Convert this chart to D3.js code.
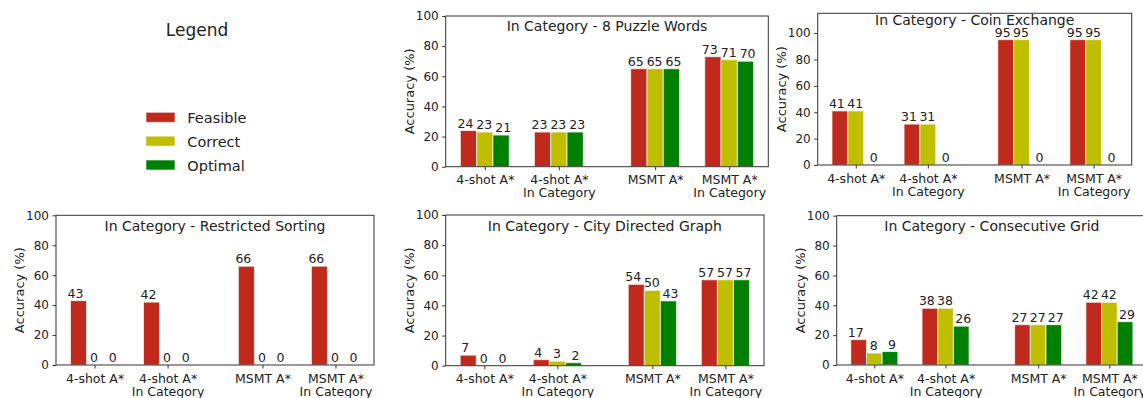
<!DOCTYPE html>
<html>
<head>
<meta charset="utf-8">
<script src="https://cdn.jsdelivr.net/npm/d3@7"></script>
<style>
  html, body { margin: 0; padding: 0; background: #fff; }
  svg { display: block; font-family: "DejaVu Sans", sans-serif; }
</style>
</head>
<body>
<svg id="chart" width="1143" height="398"></svg>
<script>
// ---------- data ----------
const categories = ["4-shot A*", "4-shot A*\nIn Category", "MSMT A*", "MSMT A*\nIn Category"];
const seriesNames = ["Feasible", "Correct", "Optimal"];
const yTicks = [0, 20, 40, 60, 80, 100];

const titles = [
  "In Category - 8 Puzzle Words",
  "In Category - Coin Exchange",
  "In Category - Restricted Sorting",
  "In Category - City Directed Graph",
  "In Category - Consecutive Grid"
];

const puzzleFeasible = [24, 23, 65, 73];
const puzzleCorrect  = [23, 23, 65, 71];
const puzzleOptimal  = [21, 23, 65, 70];

const coinFeasible = [41, 31, 95, 95];
const coinCorrect  = [41, 31, 95, 95];
const coinOptimal  = [0, 0, 0, 0];

const sortFeasible = [43, 42, 66, 66];
const sortCorrect  = [0, 0, 0, 0];
const sortOptimal  = [0, 0, 0, 0];

const cityFeasible = [7, 4, 54, 57];
const cityCorrect  = [0, 3, 50, 57];
const cityOptimal  = [0, 2, 43, 57];

const gridFeasible = [17, 38, 27, 42];
const gridCorrect  = [8, 38, 27, 42];
const gridOptimal  = [9, 26, 27, 29];

const yMaxes = [100, 115, 100, 100, 100];

// ---------- layout ----------
const colors = ["#c0291b", "#bfbf00", "#008000"];
const groupPos = [0, 1, 2.3, 3.3];      // category centres in axis units
const barW = 0.22;
const labelStep = 0.255;
const xDomain = [-0.528, 3.828];

const panels = [
  { box: [445.7, 16, 768.3, 166.7], titleY: 31, vals: [puzzleFeasible, puzzleCorrect, puzzleOptimal] },
  { box: [817.7, 13.3, 1131.7, 165], titleY: 25, vals: [coinFeasible, coinCorrect, coinOptimal] },
  { box: [56, 215.3, 374, 365], titleY: 231, vals: [sortFeasible, sortCorrect, sortOptimal] },
  { box: [445.7, 215, 764, 365.7], titleY: 230.5, vals: [cityFeasible, cityCorrect, cityOptimal] },
  { box: [836.7, 215.7, 1147, 365], titleY: 230.5, vals: [gridFeasible, gridCorrect, gridOptimal] }
];

const svg = d3.select("#chart");
const textColor = "#222";
const spineColor = "#333";

panels.forEach((p, i) => {
  const [x0, y0, x1, y1] = p.box;
  const x = d3.scaleLinear().domain(xDomain).range([x0, x1]);
  const y = d3.scaleLinear().domain([0, yMaxes[i]]).range([y1, y0]);
  const g = svg.append("g");

  // bars
  p.vals.forEach((vals, s) => {
    const off = (s - 1) * barW;
    const loff = (s - 1) * labelStep;
    g.selectAll(null).data(vals).enter().append("rect")
      .attr("x", (d, k) => x(groupPos[k] + off - barW / 2))
      .attr("width", (d, k) => x(groupPos[k] + off + barW / 2) - x(groupPos[k] + off - barW / 2))
      .attr("y", d => y(d))
      .attr("height", d => y(0) - y(d))
      .attr("fill", colors[s])
      .attr("stroke", "#fff")
      .attr("stroke-opacity", 0.7)
      .attr("stroke-width", 1);
    g.selectAll(null).data(vals).enter().append("text")
      .attr("x", (d, k) => x(groupPos[k] + loff) - 0.5)
      .attr("y", d => y(d) - 3)
      .attr("text-anchor", "middle")
      .attr("font-size", 12.5)
      .attr("fill", textColor)
      .text(d => d);
  });

  // y axis
  const yAxis = g.append("g").attr("transform", `translate(${x0},0)`)
    .call(d3.axisLeft(y).tickValues(yTicks).tickSize(3.5).tickPadding(3.5));
  yAxis.select(".domain").remove();
  yAxis.selectAll("line").attr("stroke", spineColor);
  yAxis.selectAll("text").attr("font-size", 12).attr("fill", textColor).attr("font-family", "DejaVu Sans");

  // x axis
  const xAxis = g.append("g").attr("transform", `translate(0,${y1})`)
    .call(d3.axisBottom(x).tickValues(groupPos).tickSize(3.5).tickFormat(""));
  xAxis.select(".domain").remove();
  xAxis.selectAll("line").attr("stroke", spineColor);
  xAxis.selectAll(".tick").each(function(d, k) {
    const lines = categories[k].split("\n");
    const t = d3.select(this).append("text")
      .attr("text-anchor", "middle")
      .attr("font-size", 12.5)
      .attr("fill", textColor)
      .attr("font-family", "DejaVu Sans");
    lines.forEach((ln, li) => {
      t.append("tspan").attr("x", 0).attr("y", 17.5 + li * 13).text(ln);
    });
  });

  // frame
  g.append("rect").attr("x", x0).attr("y", y0).attr("width", x1 - x0).attr("height", y1 - y0)
    .attr("fill", "none").attr("stroke", spineColor).attr("stroke-width", 1);

  // title
  g.append("text").attr("x", (x0 + x1) / 2).attr("y", p.titleY)
    .attr("text-anchor", "middle").attr("font-size", 14).attr("fill", textColor)
    .text(titles[i]);

  // y label
  g.append("text")
    .attr("transform", `translate(${x0 - 32},${(y0 + y1) / 2}) rotate(-90)`)
    .attr("text-anchor", "middle").attr("font-size", 13).attr("fill", textColor)
    .text("Accuracy (%)");
});

// legend
const leg = svg.append("g");
leg.append("text").attr("x", 197).attr("y", 36).attr("text-anchor", "middle")
  .attr("font-size", 17).attr("fill", textColor).text("Legend");
const legY = d3.scalePoint().domain(seriesNames).range([117.3, 165]);
seriesNames.forEach((name, s) => {
  leg.append("rect").attr("x", 146).attr("y", legY(name) - 5).attr("width", 29).attr("height", 10)
    .attr("fill", colors[s]).attr("stroke", "#fff").attr("stroke-opacity", 0.6);
  leg.append("text").attr("x", 187.3).attr("y", legY(name) + 5.5)
    .attr("font-size", 14.5).attr("fill", textColor).text(name);
});
</script>
</body>
</html>
